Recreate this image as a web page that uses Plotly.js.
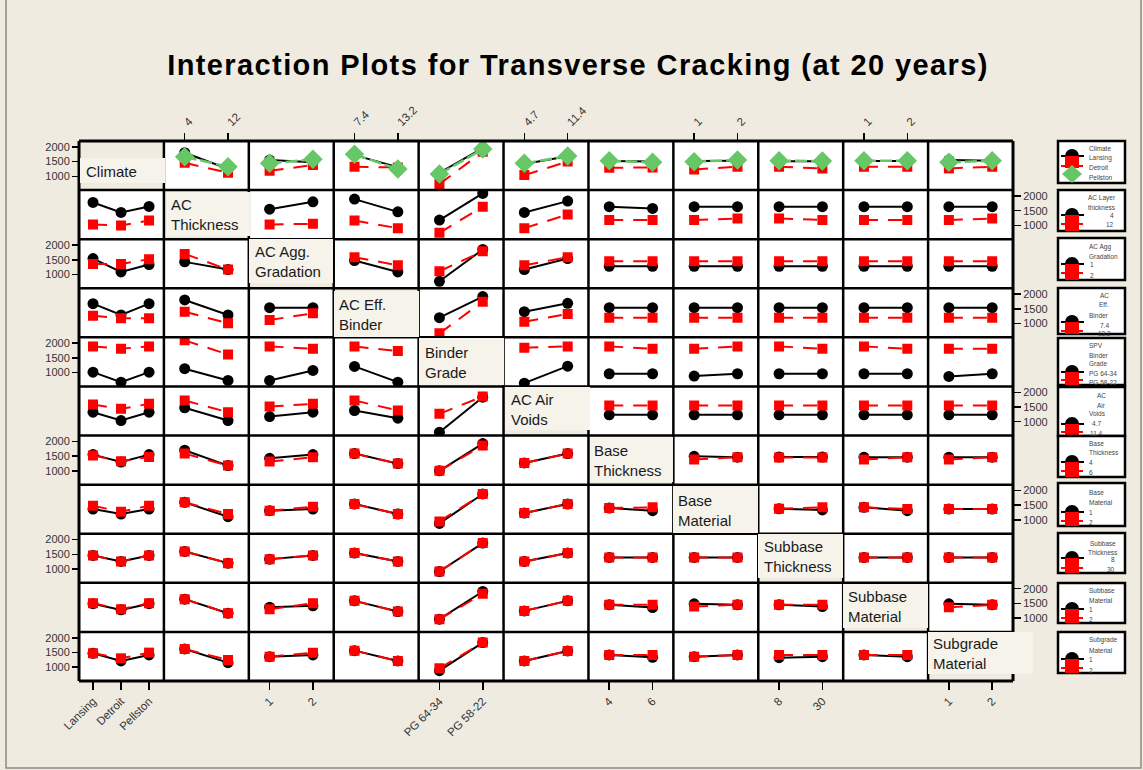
<!DOCTYPE html>
<html><head><meta charset="utf-8">
<script src="https://cdn.plot.ly/plotly-3.0.1.min.js"></script>
<style>html,body{margin:0;padding:0;background:#efebe1;}#chart{width:1143px;height:770px;}
#chart .gtitle{letter-spacing:1.4px;}
</style>
</head><body><div id="chart"></div>
<script>
const W = 1143, H = 770;

// Factor names (diagonal labels)
const factorNames = ['Climate','AC<br>Thickness','AC Agg.<br>Gradation','AC Eff.<br>Binder','Binder<br>Grade','AC Air<br>Voids','Base<br>Thickness','Base<br>Material','Subbase<br>Thickness','Subbase<br>Material','Subgrade<br>Material'];

// Tick labels (levels) per factor
const levelsClimate = ['Lansing','Detroit','Pellston'];
const levelsACThick = ['4','12'];
const levelsAggGrad = ['1','2'];
const levelsEffBinder = ['7.4','13.2'];
const levelsBinderGrade = ['PG 64-34','PG 58-22'];
const levelsAirVoids = ['4.7','11.4'];
const levelsBaseThick = ['4','6'];
const levelsBaseMat = ['1','2'];
const levelsSubThick = ['8','30'];
const levelsSubMat = ['1','2'];
const levelsSubgrade = ['1','2'];

// Mean transverse cracking, one entry per column factor (null = diagonal)
const climLansing  = [null,[1801,1250],[1552,1480],[1720,1310],[1120,1960],[1420,1680],[1520,1500],[1520,1530],[1510,1510],[1520,1520],[1552,1530]];
const climDetroit  = [null,[1460,1119],[1187,1381],[1324,1300],[734,1836],[1040,1500],[1290,1300],[1234,1324],[1324,1268],[1324,1324],[1268,1324]];
const climPellston = [null,[1666,1324],[1439,1575],[1746,1245],[1075,1927],[1439,1689],[1529,1474],[1495,1552],[1529,1518],[1529,1529],[1474,1529]];

const acThick4  = [[1780,1439,1643],null,[1552,1800],[1893,1460],[1180,2087],[1440,1825],[1634,1575],[1634,1634],[1634,1634],[1634,1634],[1634,1634]];
const acThick12 = [[1030,996,1166],null,[1030,1053],[1166,905],[747,1634],[905,1370],[1180,1180],[1180,1235],[1235,1180],[1180,1180],[1180,1235]];

const aggGrad1 = [[1541,1086,1336],[1428,1166],null,[1473,1086],[768,1849],[1166,1541],[1279,1279],[1279,1279],[1279,1279],[1279,1279],[1279,1279]];
const aggGrad2 = [[1359,1359,1518],[1700,1166],null,[1586,1313],[1109,1791],[1313,1586],[1450,1450],[1450,1450],[1450,1450],[1450,1450],[1450,1450]];

const effBinder74  = [[1677,1291,1677],[1802,1291],[1541,1541],null,[1200,1916],[1404,1688],[1541,1541],[1541,1541],[1541,1541],[1541,1541],[1541,1541]];
const effBinder132 = [[1268,1177,1177],[1404,1007],[1121,1347],null,[666,1745],[1063,1325],[1200,1200],[1200,1200],[1200,1200],[1200,1200],[1200,1200]];

const pg6434 = [[1017,676,1017],[1133,734],[734,1075],[1211,676],null,[642,1221],[962,962],[882,962],[962,962],[962,962],[871,962]];
const pg5822 = [[1893,1815,1893],[2098,1620],[1893,1815],[1893,1733],null,[1849,1893],[1893,1815],[1815,1893],[1893,1815],[1893,1815],[1815,1815]];

const airVoids47  = [[1324,1040,1324],[1473,1040],[1177,1324],[1382,1120],[642,1836],null,[1234,1234],[1234,1234],[1234,1234],[1234,1234],[1234,1234]];
const airVoids114 = [[1586,1438,1609],[1723,1324],[1518,1609],[1723,1382],[1268,1859],null,[1552,1552],[1552,1552],[1552,1552],[1552,1552],[1552,1552]];

const baseThick4 = [[1552,1300,1552],[1700,1177],[1427,1552],[1586,1245],[1000,1927],[1268,1586],null,[1495,1462],[1470,1470],[1462,1462],[1462,1462]];
const baseThick6 = [[1518,1325,1473],[1586,1177],[1313,1462],[1586,1245],[1000,1859],[1268,1586],null,[1382,1462],[1450,1450],[1382,1462],[1382,1462]];

const baseMat1 = [[1371,1200,1371],[1598,1109],[1313,1371],[1541,1200],[880,1883],[1234,1541],[1404,1313],null,[1380,1340],[1427,1313],[1370,1370]];
const baseMat2 = [[1484,1279,1484],[1598,1200],[1313,1450],[1541,1200],[948,1883],[1234,1541],[1404,1427],null,[1380,1427],[1427,1370],[1370,1370]];

const subThick8  = [[1462,1256,1462],[1598,1200],[1336,1462],[1541,1256],[915,1883],[1256,1541],[1393,1393],[1393,1393],null,[1393,1393],[1393,1393]];
const subThick30 = [[1462,1256,1462],[1598,1200],[1336,1462],[1541,1256],[915,1883],[1256,1541],[1393,1393],[1393,1393],null,[1393,1393],[1393,1393]];

const subMat1 = [[1490,1280,1490],[1644,1166],[1370,1416],[1586,1223],[962,1905],[1245,1586],[1450,1359],[1484,1450],[1450,1393],null,[1484,1450]];
const subMat2 = [[1507,1303,1507],[1644,1166],[1302,1507],[1586,1223],[962,1825],[1245,1586],[1450,1450],[1393,1450],[1450,1450],null,[1370,1450]];

const subgrade1 = [[1473,1211,1416],[1620,1154],[1359,1416],[1563,1211],[880,1836],[1211,1552],[1416,1336],[1359,1416],[1325,1359],[1416,1359],null];
const subgrade2 = [[1473,1302,1495],[1620,1245],[1359,1495],[1563,1211],[962,1836],[1211,1552],[1416,1416],[1359,1416],[1416,1416],[1416,1416],null];

const yTicks = [1000, 1500, 2000];

// Legend texts
const legendTexts = [
  ['Climate','Lansing','Detroit','Pellston'],
  ['AC Layer','thickness','4','12'],
  ['AC Agg','Gradation','1','2'],
  ['AC','Eff.','Binder','7.4','13.2'],
  ['SPV','Binder','Grade','PG 64-34','PG 58-22'],
  ['AC','Air','Voids','4.7','11.4'],
  ['Base','Thickness','4','6'],
  ['Base','Material','1','2'],
  ['Subbase','Thickness','8','30'],
  ['Subbase','Material','1','2'],
  ['Subgrade','Material','1','2']
];

// ---------- build ----------
const tickLabels = [levelsClimate, levelsACThick, levelsAggGrad, levelsEffBinder, levelsBinderGrade, levelsAirVoids, levelsBaseThick, levelsBaseMat, levelsSubThick, levelsSubMat, levelsSubgrade];
const rowSeries = [
  [climLansing, climDetroit, climPellston],
  [acThick4, acThick12],
  [aggGrad1, aggGrad2],
  [effBinder74, effBinder132],
  [pg6434, pg5822],
  [airVoids47, airVoids114],
  [baseThick4, baseThick6],
  [baseMat1, baseMat2],
  [subThick8, subThick30],
  [subMat1, subMat2],
  [subgrade1, subgrade2]
];

const N = 11;
const GX0 = 79, GX1 = 1013, GY0 = 141, GY1 = 681;
const colEdge = i => GX0 + i * (GX1 - GX0) / N;
const rowEdge = i => GY0 + i * (GY1 - GY0) / N;
const px = x => x / W;
const py = y => 1 - y / H;

const styles = [
  {line:{color:'#000000', width:2}, marker:{symbol:'circle', size:11, color:'#000000'}},
  {line:{color:'#ff0000', width:2, dash:'14px,10px'}, marker:{symbol:'square', size:10, color:'#ff0000'}},
  {line:{color:'#66c766', width:2.5, dash:'12px,4px'}, marker:{symbol:'diamond', size:15, color:'#66c766'}}
];

const traces = [];
for (let r = 0; r < N; r++) {
  rowSeries[r].forEach((series, k) => {
    for (let c = 0; c < N; c++) {
      if (c === r || !series[c]) continue;
      const xs = tickLabels[c].map((_, i) => i + 1);
      traces.push({
        type:'scatter', mode:'lines+markers',
        x: xs, y: series[c],
        xaxis: 'x' + (c === 0 ? '' : c + 1),
        yaxis: 'y' + (r === 0 ? '' : r + 1),
        line: styles[k].line, marker: styles[k].marker,
        showlegend:false, hoverinfo:'skip'
      });
    }
  });
}

const layout = {
  width: W, height: H,
  margin:{l:0,r:0,t:0,b:0},
  paper_bgcolor:'#efebe1', plot_bgcolor:'#ffffff',
  showlegend:false,
  font:{family:'Liberation Sans, Arial, sans-serif', color:'#333'},
  title:{text:'<b>Interaction Plots for Transverse Cracking (at 20 years)</b>',
    font:{family:'Liberation Sans, Arial, sans-serif', size:29, color:'#000'},
    x: px(578), xanchor:'center', y: py(65), yanchor:'middle', xref:'paper', yref:'paper'},
  shapes:[], annotations:[]
};

for (let c = 0; c < N; c++) {
  const bottom = (c % 2 === 0);
  layout['xaxis' + (c === 0 ? '' : c + 1)] = {
    domain:[px(colEdge(c)), px(colEdge(c + 1))],
    range: tickLabels[c].length === 3 ? [0.5, 3.53] : [0.52, 2.48],
    tickvals: tickLabels[c].map((_, i) => i + 1), ticktext: tickLabels[c],
    side: bottom ? 'bottom' : 'top', anchor:'free',
    position: bottom ? py(GY1) : py(GY0),
    tickangle:-45, ticks:'outside', ticklen:8, tickwidth:1.5, tickcolor:'#000',
    tickfont:{size:11.5, color:'#333'},
    showgrid:false, zeroline:false, showline:false, fixedrange:true
  };
}
for (let r = 0; r < N; r++) {
  const left = (r % 2 === 0);
  layout['yaxis' + (r === 0 ? '' : r + 1)] = {
    domain:[py(rowEdge(r + 1)), py(rowEdge(r))],
    range:[530, 2200], tickvals: yTicks,
    side: left ? 'left' : 'right', anchor:'free',
    position: left ? px(GX0) : px(GX1),
    ticks:'outside', ticklen:7, tickwidth:1.5, tickcolor:'#000',
    tickfont:{size:11, color:'#333'},
    showgrid:false, zeroline:false, showline:false, fixedrange:true
  };
}

const S = layout.shapes, A = layout.annotations;
function rect(x0, y0, x1, y1, fill, lc, lw) {
  S.push({type:'rect', xref:'paper', yref:'paper', x0:px(x0), x1:px(x1), y0:py(y1), y1:py(y0),
    fillcolor:fill, line:{color:lc || 'rgba(0,0,0,0)', width: lw || 0}, layer:'above'});
}
function line(x0, y0, x1, y1, color, w) {
  S.push({type:'line', xref:'paper', yref:'paper', x0:px(x0), x1:px(x1), y0:py(y0), y1:py(y1),
    line:{color:color, width:w}, layer:'above'});
}

// outer frame
S.push({type:'rect', xref:'paper', yref:'paper', x0:px(6), x1:px(1141), y0:py(768), y1:py(-5),
  line:{color:'#8a8a8a', width:1.5}, fillcolor:'rgba(0,0,0,0)', layer:'below'});

// grid lines
for (let i = 0; i <= N; i++) {
  const w = (i === 0 || i === N) ? 3 : 2.5;
  line(colEdge(i), GY0, colEdge(i), GY1, '#000', w);
  line(GX0, rowEdge(i), GX1, rowEdge(i), '#000', w);
}

// diagonal label boxes
const labelBoxes = [
  [80,158,165,183,84],[166,192,250,236,169],[249,239,333,283,253],[334,291,419,337,337],
  [419,338,504,385,423],[505,387,590,430,509],[590,437,673,482,592],[673,486,758,533,676],
  [758,534,843,578,762],[843,584,928,628,846],[928,632,1033,674,931]
];
labelBoxes.forEach((b, i) => {
  rect(b[0], b[1], b[2], b[3], '#f5f3ea');
  A.push({xref:'paper', yref:'paper', x:px(b[4]), y:py((b[1] + b[3]) / 2 + 0.5), xanchor:'left', yanchor:'middle',
    align:'left', showarrow:false, text: factorNames[i],
    font:{family:'Liberation Sans, Arial, sans-serif', size:15, color:'#1a1a1a'}});
});

// legend panels
const legendBoxes = [
  {y0:141,y1:183,ly:156,ry:166,rb:168,tx:[[1087,'l'],[1087,'l'],[1087,'l'],[1087,'l']],ty:[148,158,168,178]},
  {y0:190,y1:231,ly:215,ry:224,rb:231,tx:[[1118,'r'],[1118,'r'],[1116,'r'],[1116,'r']],ty:[198,207,215,225]},
  {y0:238,y1:280,ly:264,ry:273,rb:280,tx:[[1087,'l'],[1087,'l'],[1088,'l'],[1088,'l']],ty:[247,257,265,275]},
  {y0:288,y1:334,ly:322,ry:331,rb:334,tx:[[1104,'c'],[1104,'c'],[1099,'c'],[1104,'c'],[1104,'c']],ty:[295,304,315,325,333]},
  {y0:338,y1:385,ly:372,ry:380,rb:385,tx:[[1087,'l'],[1087,'l'],[1087,'l'],[1087,'l'],[1087,'l']],ty:[345,355,363,373,382]},
  {y0:387,y1:436,ly:424,ry:432,rb:436,tx:[[1101,'c'],[1101,'c'],[1097,'c'],[1096,'c'],[1096,'c']],ty:[395,405,413,423,433]},
  {y0:436,y1:477,ly:462,ry:471,rb:477,tx:[[1087,'l'],[1087,'l'],[1087,'l'],[1087,'l']],ty:[443,452,462,472]},
  {y0:483,y1:526,ly:512,ry:521,rb:526,tx:[[1087,'l'],[1087,'l'],[1087,'l'],[1087,'l']],ty:[492,502,512,522]},
  {y0:533,y1:573,ly:558,ry:568,rb:573,tx:[[1118,'r'],[1120,'r'],[1117,'r'],[1117,'r']],ty:[543,552,559,569]},
  {y0:583,y1:623,ly:609,ry:618,rb:623,tx:[[1087,'l'],[1087,'l'],[1087,'l'],[1087,'l']],ty:[590,600,609,619]},
  {y0:632,y1:673,ly:659,ry:668,rb:673,tx:[[1087,'l'],[1087,'l'],[1087,'l'],[1087,'l']],ty:[640,650,659,670]}
];
const LX0 = 1058, LX1 = 1125;
legendBoxes.forEach((L, i) => {
  rect(LX0, L.y0, LX1, L.y1, '#ffffff', '#000', 2.5);
  // black dome
  S.push({type:'circle', xref:'paper', yref:'paper', x0:px(1065), x1:px(1079), y0:py(L.ly + 7), y1:py(L.ly - 7),
    fillcolor:'#000', line:{color:'#000', width:0}, layer:'above'});
  line(1061, L.ly, 1084, L.ly, '#000', 2);
  rect(1065, L.ly, 1079, L.rb, '#ff0000');
  line(1061, L.ry, 1083, L.ry, '#ff0000', 2);
  if (i === 0) {
    S.push({type:'path', xref:'paper', yref:'paper',
      path:`M ${px(1072)} ${py(165)} L ${px(1082)} ${py(174)} L ${px(1072)} ${py(183)} L ${px(1062)} ${py(174)} Z`,
      fillcolor:'#66c766', line:{color:'#66c766', width:0}, layer:'above'});
  }
  legendTexts[i].forEach((t, j) => {
    const a = L.tx[j][1];
    A.push({xref:'paper', yref:'paper', x:px(L.tx[j][0]), y:py(L.ty[j]),
      xanchor: a === 'l' ? 'left' : (a === 'r' ? 'right' : 'center'), yanchor:'middle',
      showarrow:false, text: t,
      font:{family:'Liberation Sans, Arial, sans-serif', size:6.5, color:'#444'}});
  });
});

Plotly.newPlot('chart', traces, layout, {staticPlot:true, displayModeBar:false});
</script>
</body></html>
